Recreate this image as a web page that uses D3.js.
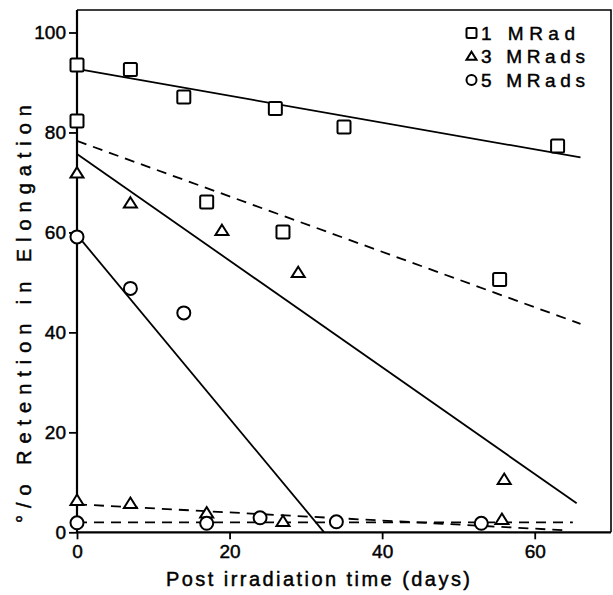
<!DOCTYPE html>
<html>
<head>
<meta charset="utf-8">
<script src="https://cdn.jsdelivr.net/npm/d3@7/dist/d3.min.js"></script>
<style>
  html, body { margin: 0; padding: 0; background: #fff; }
  svg { display: block; }
  text { font-family: "Liberation Sans", Arial, sans-serif; fill: #000; stroke: #000; stroke-width: 0.45px; }
</style>
</head>
<body>
<svg id="chart" width="613" height="595"></svg>
<script>
// Observed retention values (% of initial elongation) vs. days after irradiation
const sq1Days = [0, 7, 14, 26, 35, 63];
const sq1Vals = [93.5, 92.6, 87.1, 84.8, 81.1, 77.3];
const sq2Days = [0, 17, 27, 55.4];
const sq2Vals = [82.3, 66.1, 60.1, 50.6];
const tri1Days = [0, 7, 19, 29, 56];
const tri1Vals = [71.8, 65.8, 60.3, 51.9, 10.5];
const tri2Days = [0, 7, 17, 27, 55.7];
const tri2Vals = [6.3, 5.7, 3.8, 2.1, 2.5];
const cir1Days = [0, 7, 14];
const cir1Vals = [59.1, 48.8, 43.9];
const cir2Days = [0, 17, 24, 34, 53];
const cir2Vals = [1.9, 1.8, 2.9, 2.1, 1.8];

// Fitted trend lines: start/end day and start/end value
const fitNames = ["1 MRad", "1 MRad", "3 MRads", "3 MRads", "5 MRads", "5 MRads"];
const fitDash = [false, true, false, true, false, true];
const fitDays = [[0, 66], [0, 66], [0, 65.5], [0, 64], [0, 32.4], [0, 65]];
const fitVals = [[92.7, 75.0], [78.3, 41.7], [75.7, 5.8], [5.6, 0.4], [59.5, 0], [2.0, 2.0]];

const xTicks = [0, 20, 40, 60];
const yTicks = [0, 20, 40, 60, 80, 100];
const legendLabels = ["1 MRad", "3 MRads", "5 MRads"];
const legendShapes = ["square", "triangle", "circle"];

const svg = d3.select("#chart");
const padL = 77, padR = 611, padT = 10, padB = 532.3;

const x = d3.scaleLinear().domain([0, 70]).range([padL, padR]);
const y = d3.scaleLinear().domain([0, 104.5]).range([padB, padT]);

// frame: top and right edges
svg.append("path")
  .attr("d", `M${padL},${padT}H${padR}V${padB}`)
  .attr("fill", "none").attr("stroke", "#000").attr("stroke-width", 1.6);

// axes
const gx = svg.append("g").attr("transform", `translate(0,${padB})`)
  .call(d3.axisBottom(x).tickValues(xTicks).tickSize(7).tickSizeOuter(0).tickPadding(5));
const gy = svg.append("g").attr("transform", `translate(${padL},0)`)
  .call(d3.axisLeft(y).tickValues(yTicks).tickSize(8).tickSizeOuter(0).tickPadding(3));
[gx, gy].forEach(g => {
  g.select(".domain").attr("stroke", "#000").attr("stroke-width", 2.2);
  g.selectAll(".tick line").attr("stroke", "#000").attr("stroke-width", 1.8);
  g.selectAll(".tick text").attr("font-size", 19).attr("fill", "#000")
    .attr("font-family", "'Liberation Sans', Arial, sans-serif");
});
gx.select(".domain").attr("d", `M${padL},0H${padR}`);
gy.select(".domain").attr("d", `M0,${padT}V${padB}`);

// axis titles
svg.append("text")
  .attr("x", 318).attr("y", 586)
  .attr("text-anchor", "middle").attr("font-size", 20)
  .attr("textLength", 304).attr("lengthAdjust", "spacing")
  .text("Post irradiation time (days)");
svg.append("text")
  .attr("transform", "translate(31,314) rotate(-90)")
  .attr("text-anchor", "middle").attr("font-size", 20)
  .attr("textLength", 418).attr("lengthAdjust", "spacing")
  .text("°/o Retention in Elongation");

// fitted lines
const line = d3.line().x(d => x(d[0])).y(d => y(d[1]));
fitDays.forEach((dd, i) => {
  const pts = [[dd[0], fitVals[i][0]], [dd[1], fitVals[i][1]]];
  svg.append("path").datum(pts)
    .attr("class", "fit " + fitNames[i].replace(/\s/g, ""))
    .attr("d", line)
    .attr("fill", "none").attr("stroke", "#000").attr("stroke-width", 1.8)
    .attr("stroke-dasharray", fitDash[i] ? "10,7" : null);
});

// marker shapes
function marker(g, shape, cx, cy, s) {
  if (shape === "square") {
    g.append("rect").attr("x", cx - s / 2).attr("y", cy - s / 2)
      .attr("width", s).attr("height", s).attr("rx", 1.5);
  } else if (shape === "triangle") {
    const h = s * 0.8;
    g.append("path").attr("d",
      `M${cx},${cy - h * 0.6}L${cx + s / 2},${cy + h * 0.4}L${cx - s / 2},${cy + h * 0.4}Z`);
  } else {
    g.append("circle").attr("cx", cx).attr("cy", cy).attr("r", s / 2);
  }
}

const series = [
  ["square", sq1Days, sq1Vals], ["square", sq2Days, sq2Vals],
  ["triangle", tri1Days, tri1Vals], ["triangle", tri2Days, tri2Vals],
  ["circle", cir1Days, cir1Vals], ["circle", cir2Days, cir2Vals]
];
const pts = svg.append("g").attr("fill", "#fff").attr("stroke", "#000").attr("stroke-width", 2);
series.forEach(([shape, days, vals]) => {
  days.forEach((d, i) => marker(pts, shape, x(d), y(vals[i]), 13));
});

// legend
const lg = svg.append("g");
legendLabels.forEach((lab, i) => {
  const cy = 33 + i * 23.5;
  const g = lg.append("g").attr("fill", "#fff").attr("stroke", "#000").attr("stroke-width", 2);
  marker(g, legendShapes[i], 471.5, cy, 10);
  lg.append("text").attr("x", 481).attr("y", cy + 6.5)
    .attr("font-size", 19)
    .attr("textLength", i === 0 ? 94 : 104).attr("lengthAdjust", "spacing")
    .text(lab);
});
</script>
</body>
</html>
